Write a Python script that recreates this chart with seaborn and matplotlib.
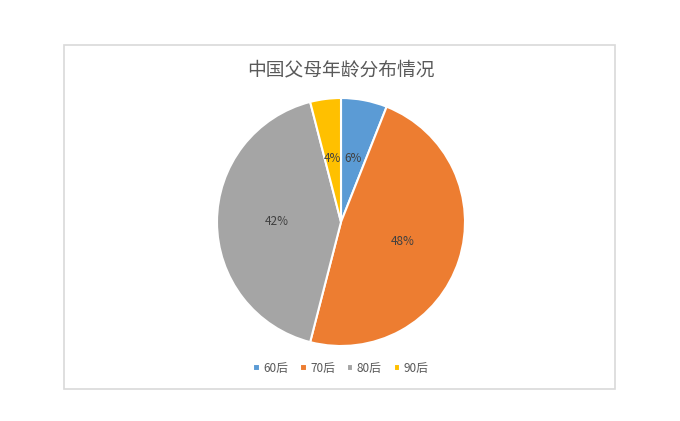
import matplotlib
matplotlib.use("Agg")
import matplotlib.pyplot as plt
import matplotlib.patches as patches
import seaborn as sns

# Data
groups = ['60后', '70后', '80后', '90后']
shares = [6, 48, 42, 4]
colors = ['#5B9BD5', '#ED7D31', '#A5A5A5', '#FFC000']
title = '中国父母年龄分布情况'

sns.set_theme(style="white")
plt.rcParams['font.family'] = ['Noto Sans CJK SC', 'DejaVu Sans']

W, H = 680, 421
fig = plt.figure(figsize=(W / 100, H / 100), dpi=100)
fig.patch.set_facecolor('white')

# chart area border, like the Excel chart frame
border = patches.Rectangle((64 / W, (H - 389) / H), 551 / W, 344 / H,
                           transform=fig.transFigure, fill=False,
                           edgecolor='#D9D9D9', linewidth=1.2)
fig.add_artist(border)

# pie axes placed so the pie sits where it does in the reference
cx, cy, r = 341, 222, 124
ax = fig.add_axes([(cx - r) / W, (H - cy - r) / H, 2 * r / W, 2 * r / H])
palette = sns.color_palette(colors)
wedges, texts, autotexts = ax.pie(
    shares, colors=palette, startangle=90, counterclock=False,
    autopct=lambda p: f'{p:.0f}%', pctdistance=0.52,
    wedgeprops=dict(edgecolor='white', linewidth=1.5),
    textprops=dict(fontsize=8.5, color='#404040'))
ax.set_xlim(-1, 1)
ax.set_ylim(-1, 1)
ax.set_aspect('auto')
ax.axis('off')

fig.text(cx / W, (H - 70) / H, title, ha='center', va='center',
         fontsize=13.5, color='#595959')

fig.legend(wedges, groups, loc='center', bbox_to_anchor=(cx / W, (H - 368) / H),
           ncol=4, frameon=False, fontsize=8.5, labelcolor='#595959',
           handlelength=0.55, handleheight=0.55, handletextpad=0.3,
           columnspacing=1.0)

fig.savefig('out.png', dpi=100, facecolor='white')
